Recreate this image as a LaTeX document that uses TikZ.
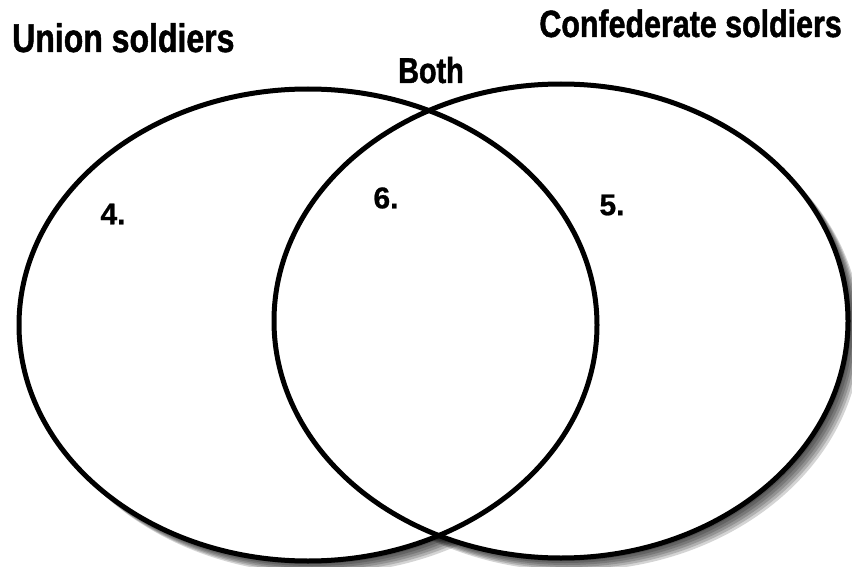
\documentclass[tikz,border=0pt]{standalone}
\usepackage{fontspec}
\usetikzlibrary{shapes.geometric}
\setmainfont{Liberation Sans}
\newfontfamily\condfont{Liberation Sans}[FakeStretch=0.80,BoldFeatures={FakeBold=1.2}]
\newfontfamily\numfont{Liberation Sans}[BoldFeatures={FakeBold=0.8}]
\begin{document}
\begin{tikzpicture}[x=1pt,y=-1pt,
  ring/.style={ellipse,draw=none,fill=white,inner sep=0pt,outer sep=0pt},
  title/.style={font=\condfont\bfseries\fontsize{40}{42}\selectfont,inner sep=0pt},
  numlabel/.style={font=\numfont\bfseries\fontsize{30}{32}\selectfont,inner sep=0pt}]
\useasboundingbox (0,0) rectangle (852,567);
\fill[white] (0,0) rectangle (852,567);
% soft drop shadow
\foreach \d in {2,4,6,8,10,12}{
  \fill[black,opacity=0.17] (308+\d,325+\d) ellipse [x radius=290,y radius=237];
  \fill[black,opacity=0.17] (561+\d,321+\d) ellipse [x radius=288,y radius=238];
}
\node[ring,minimum width=578pt,minimum height=472pt] (union) at (308,325) {};
\node[ring,minimum width=574pt,minimum height=474pt] (confed) at (561,321) {};
\draw[line width=5pt] (308,325) ellipse [x radius=289,y radius=236];
\draw[line width=5pt] (561,321) ellipse [x radius=287,y radius=237];
\node[title,anchor=base west] (ut) at (12,52) {Union soldiers};
\node[title,anchor=base east,font=\condfont\bfseries\fontsize{38}{40}\selectfont] (ct) at (842,37) {Confederate soldiers};
\node[title,anchor=base,font=\condfont\bfseries\fontsize{36}{38}\selectfont] (bt) at (431,83) {Both};
\node[numlabel] (n4) at (113,214) {4.};
\node[numlabel] (n6) at (386,198) {6.};
\node[numlabel] (n5) at (612,205) {5.};
\end{tikzpicture}
\end{document}
